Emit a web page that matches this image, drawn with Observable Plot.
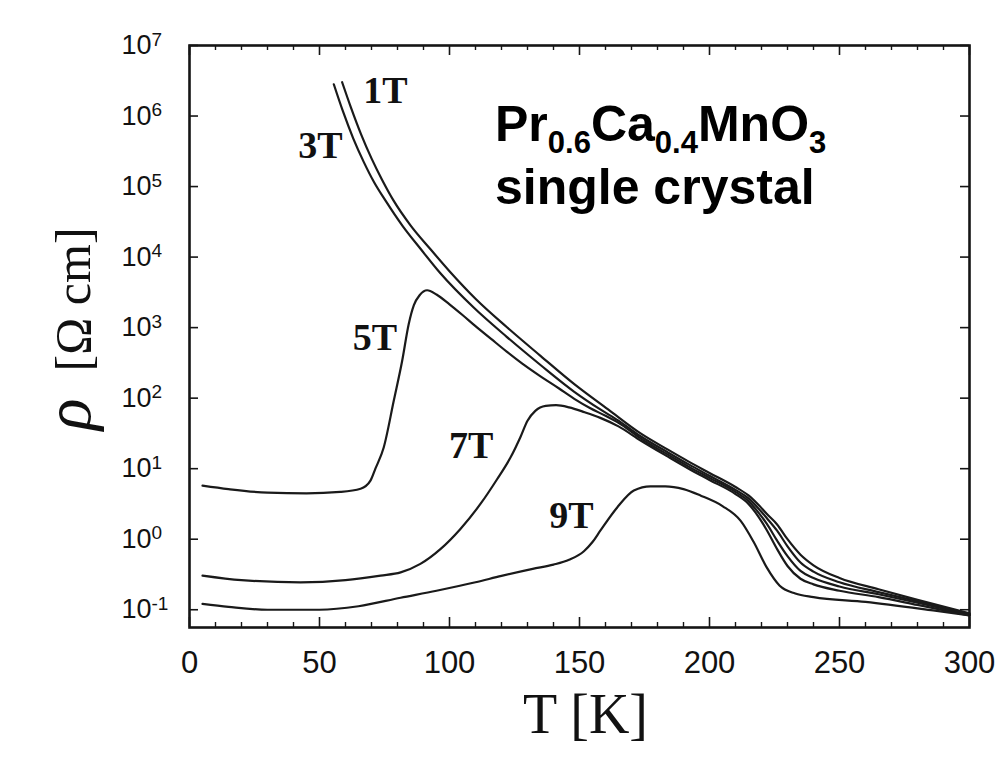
<!DOCTYPE html>
<html><head><meta charset="utf-8">
<script src="https://cdn.jsdelivr.net/npm/d3@7"></script>
<script src="https://cdn.jsdelivr.net/npm/@observablehq/plot@0.6"></script>
<style>
html,body{margin:0;padding:0;background:#fff;}
#chart svg{display:block;background:#fff;}
</style></head><body><div id="chart"></div>
<script>
// ---- data (T in K, rho in Ohm cm) ----
const T_1T = [58.7, 62, 66, 70, 74, 78.5, 85, 92.7, 100, 110, 122, 135, 148, 161, 173.5, 184, 192, 200, 210, 215, 219, 222, 226, 230, 235, 240, 250, 265, 280, 300];
const rho_1T = [3.02e6, 1.35e6, 5.5e5, 2.51e5, 1.26e5, 6.31e4, 2.82e4, 1.29e4, 6.31e3, 2.57e3, 1.02e3, 398, 158, 69.2, 31.6, 18.6, 12.6, 8.71, 5.50, 4.17, 3.02, 2.29, 1.62, 1.00, 0.603, 0.427, 0.282, 0.195, 0.138, 0.0891];

const T_3T = [55.5, 59, 63, 67, 71, 75.4, 82, 89, 96.5, 109.4, 122, 135, 148, 158, 165, 173.5, 184, 192, 200, 210, 215, 219, 222, 226, 230, 235, 240, 250, 265, 280, 300];
const rho_3T = [2.82e6, 1.17e6, 4.79e5, 2.24e5, 1.15e5, 6.31e4, 2.75e4, 1.29e4, 5.89e3, 1.91e3, 741, 295, 123, 69.2, 47.9, 28.8, 17.0, 11.5, 7.94, 5.01, 3.80, 2.69, 2.00, 1.32, 0.794, 0.468, 0.347, 0.245, 0.178, 0.132, 0.0871];

const T_5T = [5, 15, 30, 45, 58, 65.8, 69.6, 71.5, 74.7, 78.6, 81.8, 84.3, 86.3, 88.5, 91.4, 95, 100, 105, 110, 116, 122, 128, 135, 142, 148, 154, 160, 165, 173.5, 184, 192, 200, 210, 215, 219, 222, 226, 230, 235, 240, 250, 265, 280, 300];
const rho_5T = [5.75, 5.13, 4.57, 4.47, 4.68, 5.19, 6.76, 10.0, 20.0, 93.3, 339, 1.12e3, 2.09e3, 2.88e3, 3.39e3, 2.95e3, 2.14e3, 1.51e3, 1.05e3, 692, 457, 309, 204, 138, 97.7, 72.4, 56.2, 44.7, 26.9, 15.8, 10.7, 7.41, 4.68, 3.47, 2.34, 1.66, 0.955, 0.575, 0.355, 0.282, 0.214, 0.166, 0.126, 0.0851];

const T_7T = [5, 20, 42.7, 60, 73.5, 81.2, 88.8, 96.5, 104.2, 111.9, 118.3, 123.5, 127.3, 130, 133, 137, 141, 146, 152, 158, 165, 173.5, 184, 192, 200, 210, 215, 219, 222, 226, 230, 235, 240, 250, 265, 280, 300];
const rho_7T = [0.305, 0.263, 0.245, 0.263, 0.305, 0.339, 0.447, 0.724, 1.40, 3.16, 7.08, 14.5, 28.2, 47.9, 66.1, 77.6, 79.4, 74.1, 63.1, 52.5, 39.8, 25.1, 14.8, 10.0, 6.92, 4.37, 3.16, 2.04, 1.35, 0.724, 0.417, 0.275, 0.229, 0.186, 0.151, 0.117, 0.0832];

const T_9T = [5, 15, 30, 50, 65, 81.2, 95, 110, 120, 132, 140, 146, 151.7, 155, 158, 164.5, 170.9, 177.3, 183, 190, 196.5, 205, 212, 217, 222, 227, 233, 240, 260, 286, 300];
const rho_9T = [0.121, 0.110, 0.100, 0.100, 0.112, 0.148, 0.186, 0.245, 0.302, 0.380, 0.437, 0.513, 0.676, 0.912, 1.32, 2.82, 4.90, 5.62, 5.62, 5.13, 4.17, 2.95, 1.82, 0.912, 0.398, 0.219, 0.170, 0.151, 0.129, 0.0977, 0.0832];

const fields = ["1T", "3T", "5T", "7T", "9T"];
const seriesT = [T_1T, T_3T, T_5T, T_7T, T_9T];
const seriesRho = [rho_1T, rho_3T, rho_5T, rho_7T, rho_9T];

// curve labels (anchored in data coordinates)
const labelText = ["1T", "3T", "5T", "7T", "9T"];
const labelT = [75.4, 50.4, 71.3, 108.3, 146.9];
const labelRho = [2.3e6, 3.84e5, 714, 21.3, 2.17];

// axes
const xMajorTicks = [0, 50, 100, 150, 200, 250, 300];
const xMinorTicks = [10, 20, 30, 40, 60, 70, 80, 90, 110, 120, 130, 140, 160, 170, 180, 190, 210, 220, 230, 240, 260, 270, 280, 290];
const yTicks = [0.1, 1, 10, 100, 1e3, 1e4, 1e5, 1e6, 1e7];
const yExponents = ["-1", "0", "1", "2", "3", "4", "5", "6", "7"];
const xTitle = "T [K]";
const yTitleSymbol = "\u03C1";
const yTitleUnit = "[\u03A9 cm]";
const annotationLine1 = [["Pr", false], ["0.6", true], ["Ca", false], ["0.4", true], ["MnO", false], ["3", true]];
const annotationLine2 = "single crystal";

// ---- build table ----
const rows = [];
fields.forEach((f, i) => seriesT[i].forEach((t, j) => rows.push({field: f, T: t, rho: seriesRho[i][j]})));
const labels = labelText.map((t, i) => ({text: t, T: labelT[i], rho: labelRho[i]}));

const W = 998, H = 768;
const mL = 189, mR = 29, mT = 45, mB = 141;
const pw = W - mL - mR, ph = H - mT - mB;
const sans = "'Liberation Sans', Arial, Helvetica, sans-serif";
const serif = "'Liberation Serif', 'Times New Roman', Times, serif";
const ink = "#151515";

const chart = Plot.plot({
  width: W, height: H,
  marginLeft: mL, marginRight: mR, marginTop: mT, marginBottom: mB,
  style: {background: "#fff", color: ink},
  x: {domain: [0, 300], axis: null},
  y: {type: "log", domain: [0.056, 1e7], axis: null},
  marks: [
    // inward ticks
    Plot.ruleX(xMajorTicks, {x: d => d, insetTop: ph - 10, stroke: ink, strokeWidth: 1.6}),
    Plot.ruleX(xMinorTicks, {x: d => d, insetTop: ph - 5, stroke: ink, strokeWidth: 1.4}),
    Plot.ruleX(xMajorTicks, {x: d => d, insetBottom: ph - 10, stroke: ink, strokeWidth: 1.6}),
    Plot.ruleX(xMinorTicks, {x: d => d, insetBottom: ph - 5, stroke: ink, strokeWidth: 1.4}),
    Plot.ruleY(yTicks, {y: d => d, insetRight: pw - 9, stroke: ink, strokeWidth: 1.6}),
    Plot.ruleY(yTicks, {y: d => d, insetLeft: pw - 9, stroke: ink, strokeWidth: 1.6}),
    // curves
    Plot.line(rows, {x: "T", y: "rho", z: "field", stroke: "#1a1a1a", strokeWidth: 2.2, curve: "monotone-x"}),
    // frame
    Plot.frame({stroke: ink, strokeWidth: 2.6}),
    // curve labels
    Plot.text(labels, {x: "T", y: "rho", text: "text", fontFamily: serif, fontWeight: "bold", fontSize: 38, fill: "#111", textAnchor: "middle", lineAnchor: "middle"}),
    // x tick labels
    Plot.text(xMajorTicks, {x: d => d, frameAnchor: "bottom", text: d => String(d), dy: 23, lineAnchor: "top", fontFamily: sans, fontSize: 31, fill: "#111"}),
    // y tick labels: mantissa and exponent
    Plot.text(yTicks, {y: d => d, frameAnchor: "left", text: () => "10", textAnchor: "start", dx: -68, fontFamily: sans, fontSize: 27, fill: "#111"}),
    Plot.text(yTicks, {y: d => d, frameAnchor: "left", text: (d, i) => yExponents[i], textAnchor: "start", dx: -38, dy: -6, fontFamily: sans, fontSize: 19, fill: "#111"}),
    // axis titles
    Plot.text([xTitle], {frameAnchor: "bottom", text: d => d, dx: 6, dy: 88, textAnchor: "middle", lineAnchor: "middle", fontFamily: serif, fontSize: 56, fill: "#111"}),
    Plot.text([yTitleUnit], {frameAnchor: "left", text: d => d, rotate: -90, dx: -100, dy: -37, textAnchor: "middle", lineAnchor: "bottom", fontFamily: serif, fontSize: 50, fill: "#111"}),
    Plot.text([yTitleSymbol], {frameAnchor: "left", text: d => d, rotate: -90, dx: -100, dy: 78, textAnchor: "middle", lineAnchor: "bottom", fontFamily: serif, fontStyle: "italic", fontSize: 66, fill: "#111"})
  ]
});

document.getElementById("chart").appendChild(chart);

// annotation with subscripts
const svg = d3.select(chart);
const a1 = svg.append("text").attr("x", 495).attr("y", 141).attr("text-anchor", "start")
  .attr("font-family", sans).attr("font-weight", "bold").attr("font-size", 50).attr("fill", "#000");
let prevSub = false;
annotationLine1.forEach(([t, sub]) => {
  const ts = a1.append("tspan").text(t);
  if (sub && !prevSub) ts.attr("dy", 12).attr("font-size", 31);
  else if (!sub && prevSub) ts.attr("dy", -12);
  else if (sub) ts.attr("font-size", 31);
  prevSub = sub;
});
svg.append("text").attr("x", 495).attr("y", 204).attr("text-anchor", "start")
  .attr("font-family", sans).attr("font-weight", "bold").attr("font-size", 50).attr("fill", "#000")
  .text(annotationLine2);
</script>
</body></html>
